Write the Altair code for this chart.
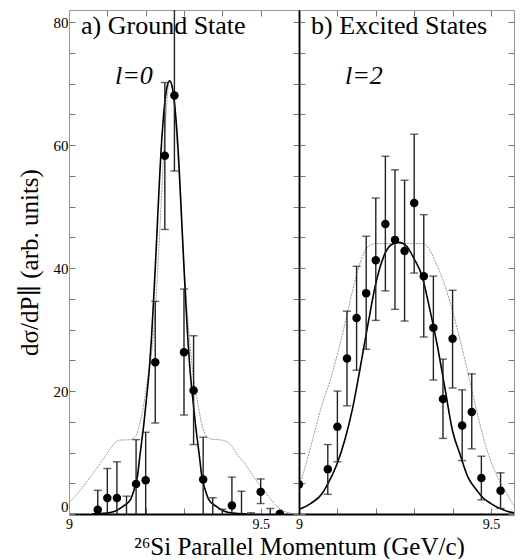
import altair as alt
import pandas as pd

FONT = "Liberation Serif, DejaVu Serif, serif"

# ---------------- a) Ground State (l=0) ----------------
gs_x = [9.075, 9.100, 9.125, 9.150, 9.175, 9.200, 9.225, 9.250, 9.275, 9.300,
        9.325, 9.350, 9.375, 9.400, 9.425, 9.450, 9.475, 9.500, 9.525, 9.550]
gs_y = [0.7, 2.6, 2.6, -1.5, 4.9, 5.5, 24.7, 58.3, 68.1, 26.3,
        20.1, 5.6, -1.0, -2.0, 1.4, -1.2, -3.0, 3.6, -1.5, 0.05]
gs_lo = [-2.4, -2.2, -3.3, -5.9, -2.3, -2.3, 14.8, 46.3, 55.8, 16.1,
         11.3, -1.3, -4.65, -4.8, -3.2, -6.1, -6.2, 1.7, -3.9, 0.05]
gs_hi = [3.85, 7.4, 8.5, 2.9, 12.1, 13.3, 34.6, 70.2, 84.0, 36.6,
         29.0, 12.5, 2.65, 0.76, 6.0, 3.7, 0.2, 5.7, 0.9, 0.05]

# l=0 fit (solid)
gs_fit_x = [9.06, 9.09, 9.12, 9.14, 9.16, 9.17, 9.178, 9.185, 9.19, 9.195, 9.20, 9.205,
            9.21, 9.215, 9.22, 9.225, 9.23, 9.235, 9.24, 9.245, 9.25, 9.255, 9.2625,
            9.27, 9.275, 9.28, 9.285, 9.29, 9.295, 9.30, 9.305, 9.31, 9.315, 9.32,
            9.325, 9.33, 9.335, 9.34, 9.347, 9.355, 9.365, 9.385, 9.405, 9.435, 9.465]
gs_fit_y = [0.0, 0.1, 0.45, 1.2, 2.3, 4.0, 5.9, 9.5, 12.0, 14.5, 17.5, 20.5,
            24.0, 28.5, 34.0, 40.0, 46.5, 53.0, 59.0, 63.5, 67.0, 69.3, 70.5,
            69.3, 67.0, 63.5, 59.0, 53.0, 46.5, 40.0, 34.0, 28.5, 24.0, 20.5,
            17.5, 14.5, 12.0, 9.5, 5.9, 4.0, 2.3, 1.2, 0.45, 0.1, 0.0]

# comparison curve (dotted grey)
gs_alt_x = [9.0, 9.03, 9.06, 9.09, 9.11, 9.13, 9.16, 9.175, 9.185, 9.195, 9.205, 9.218,
            9.23, 9.24, 9.25, 9.2625, 9.275, 9.285, 9.295, 9.305, 9.315, 9.325, 9.335,
            9.345, 9.355, 9.37, 9.40, 9.42, 9.44, 9.46, 9.48, 9.50, 9.52, 9.547, 9.573, 9.60]
gs_alt_y = [1.8, 3.9, 6.4, 9.0, 10.8, 12.0, 12.1, 12.8, 14.8, 17.8, 22.0, 27.6,
            38.0, 50.0, 62.0, 70.5, 66.0, 57.0, 46.0, 36.0, 28.0, 22.0, 18.4,
            15.0, 13.0, 12.2, 12.0, 11.4, 9.6, 8.1, 6.2, 4.5, 2.9, 1.0, 0.2, 0.0]

# ---------------- b) Excited States (l=2) ----------------
ex_x = [9.000, 9.075, 9.100, 9.125, 9.150, 9.175, 9.200, 9.225, 9.250, 9.275,
        9.300, 9.325, 9.350, 9.375, 9.400, 9.425, 9.450, 9.475, 9.525]
ex_y = [4.8, 7.3, 14.2, 25.3, 31.9, 35.9, 41.3, 47.2, 44.6, 42.8,
        50.6, 38.7, 30.3, 18.7, 28.5, 14.4, 16.6, 5.85, 3.8]
ex_lo = [4.8, 3.2, 8.5, 17.6, 23.4, 26.8, 31.5, 36.3, 33.3, 31.4,
         39.2, 28.8, 21.8, 12.3, 20.5, 8.7, 10.6, 2.3, 0.9]
ex_hi = [4.8, 11.3, 20.0, 33.0, 40.3, 45.2, 51.4, 58.2, 56.0, 54.3,
         61.8, 48.7, 38.7, 25.2, 36.4, 20.2, 22.8, 9.4, 6.7]

ex_fit_x = [9.00, 9.03, 9.06, 9.08, 9.10, 9.12, 9.14, 9.16, 9.18, 9.20, 9.22, 9.24,
            9.26, 9.28, 9.30, 9.32, 9.34, 9.36, 9.38, 9.40, 9.42, 9.44, 9.46, 9.48,
            9.50, 9.52, 9.55, 9.58]
ex_fit_y = [0.75, 1.7, 3.3, 5.5, 8.3, 12.2, 17.3, 24.0, 31.0, 37.5, 41.8, 43.8,
            44.2, 43.6, 41.5, 38.8, 33.5, 27.5, 20.5, 13.5, 9.6, 6.0, 4.1, 2.6,
            1.7, 1.0, 0.3, 0.1]

ex_alt_x = [9.00, 9.02, 9.04, 9.06, 9.08, 9.10, 9.12, 9.14, 9.16, 9.18, 9.20, 9.26,
            9.32, 9.34, 9.36, 9.38, 9.40, 9.42, 9.44, 9.46, 9.48, 9.50, 9.52, 9.54,
            9.56, 9.58]
ex_alt_y = [4.3, 8.5, 13.2, 17.8, 21.5, 26.0, 31.0, 36.5, 41.0, 43.5, 44.0, 44.0,
            44.0, 43.0, 40.3, 37.2, 33.0, 28.2, 23.0, 17.5, 12.5, 8.5, 5.7, 3.4,
            1.4, 0.1]

x_ticks = [9.0, 9.1, 9.2, 9.3, 9.4, 9.5, 9.6]
y_ticks = [0, 5, 10, 15, 20, 25, 30, 35, 40, 45, 50, 55, 60, 65, 70, 75, 80]

Y_DOMAIN = [0, 82]
H = 504
TICK = 6
INWARD = {"expr": "-6"}
X_LABEL_EXPR = "(abs(datum.value-9)<0.001 || abs(datum.value-9.5)<0.001) ? format(datum.value, '') : ''"
Y_LABEL_EXPR = "(datum.value % 20 == 0) ? format(datum.value, 'd') : ''"


def panel(px, py, plo, phi, fx, fy, ax, ay, x_max, width, label, ell, first):
    xs = alt.Scale(domain=[9.0, x_max], nice=False, zero=False)
    ys = alt.Scale(domain=Y_DOMAIN, nice=False, zero=False)

    pts = pd.DataFrame({"x": px, "y": py, "lo": plo, "hi": phi})
    fit = pd.DataFrame({"x": fx, "y": fy})
    alt_df = pd.DataFrame({"x": ax, "y": ay})

    bottom_axis = alt.Axis(
        orient="bottom", values=x_ticks, labelExpr=X_LABEL_EXPR, tickSize=INWARD,
        tickColor="#777", domainColor="black", domainWidth=2, labelPadding=3 + TICK,
        labelFontSize=14, labelFont=FONT, labelColor="black", labelFlush=False,
        title="²⁶Si Parallel Momentum (GeV/c)" if first else None,
        titleX=width, titleY=40, titleAlign="center", titleBaseline="alphabetic",
        titleFontSize=25, titleFont=FONT,
        titleFontWeight="normal", titleColor="black",
    )
    left_axis = alt.Axis(
        orient="left", values=y_ticks, tickSize=INWARD, tickColor="#777",
        domainColor="#999" if first else "black", domainWidth=1 if first else 1.5,
        labels=first, labelExpr=Y_LABEL_EXPR, labelPadding=1 + TICK, labelFontSize=15,
        labelFont=FONT, labelColor="black", labelFlush=True,
        title="dσ/dP∥ (arb. units)" if first else None,
        titleFontSize=25, titleFont=FONT, titleFontWeight="normal",
        titleColor="black", titlePadding=11,
    )
    top_axis = alt.Axis(orient="top", values=x_ticks, tickSize=INWARD, tickColor="#777",
                        domainColor="#999", labels=False, title=None)
    right_axis = alt.Axis(orient="right", values=y_ticks, tickSize=INWARD, tickColor="#777",
                          domainColor="black" if first else "#999",
                          domainWidth=1.5 if first else 1, labels=False, title=None)

    grey = alt.Chart(alt_df).mark_line(
        color="#9a9a9a", strokeWidth=1, strokeDash=[2, 1], interpolate="monotone", clip=True
    ).encode(
        x=alt.X("x:Q", scale=xs, axis=bottom_axis),
        y=alt.Y("y:Q", scale=ys, axis=left_axis),
    )
    black = alt.Chart(fit).mark_line(
        color="black", strokeWidth=1.6, interpolate="monotone", clip=True
    ).encode(
        x=alt.X("x:Q", scale=xs, axis=top_axis),
        y=alt.Y("y:Q", scale=ys, axis=right_axis),
    )
    bars = alt.Chart(pts).mark_rule(color="#222", strokeWidth=1.4, clip=True).encode(
        x=alt.X("x:Q", scale=xs, axis=None),
        y=alt.Y("lo:Q", scale=ys, axis=None),
        y2="hi:Q",
    )
    cap_hi = alt.Chart(pts).mark_tick(
        orient="horizontal", color="#222", size=8, thickness=1.4, clip=True
    ).encode(
        x=alt.X("x:Q", scale=xs, axis=None),
        y=alt.Y("hi:Q", scale=ys, axis=None),
    )
    cap_lo = alt.Chart(pts).mark_tick(
        orient="horizontal", color="#222", size=8, thickness=1.4, clip=True
    ).encode(
        x=alt.X("x:Q", scale=xs, axis=None),
        y=alt.Y("lo:Q", scale=ys, axis=None),
    )
    dots = alt.Chart(pts).mark_circle(color="black", size=72, opacity=1, clip=True).encode(
        x=alt.X("x:Q", scale=xs, axis=None),
        y=alt.Y("y:Q", scale=ys, axis=None),
    )
    title_txt = alt.Chart(pd.DataFrame({"t": [label]})).mark_text(
        align="left", baseline="alphabetic", fontSize=26, font=FONT, color="black"
    ).encode(x=alt.value(12), y=alt.value(24), text="t:N")
    ell_txt = alt.Chart(pd.DataFrame({"t": [ell]})).mark_text(
        align="left", baseline="alphabetic", fontSize=26, font=FONT, fontStyle="italic",
        color="black"
    ).encode(x=alt.value(46), y=alt.value(74), text="t:N")

    return alt.layer(grey, black, bars, cap_hi, cap_lo, dots, title_txt, ell_txt).resolve_axis(
        x="independent", y="independent"
    ).properties(width=width, height=H)


left = panel(gs_x, gs_y, gs_lo, gs_hi, gs_fit_x, gs_fit_y, gs_alt_x, gs_alt_y,
             9.6, 230, "a) Ground State", "l=0", True)
right = panel(ex_x, ex_y, ex_lo, ex_hi, ex_fit_x, ex_fit_y, ex_alt_x, ex_alt_y,
              9.56, 215, "b) Excited States", "l=2", False)

chart = alt.hconcat(left, right, spacing=0, bounds="flush").properties(
    padding={"left": 9, "top": 1, "right": 0, "bottom": 0}
).configure_view(stroke=None).configure_axis(grid=False)

chart.save("out.html", embed_options={"renderer": "svg", "actions": False})
